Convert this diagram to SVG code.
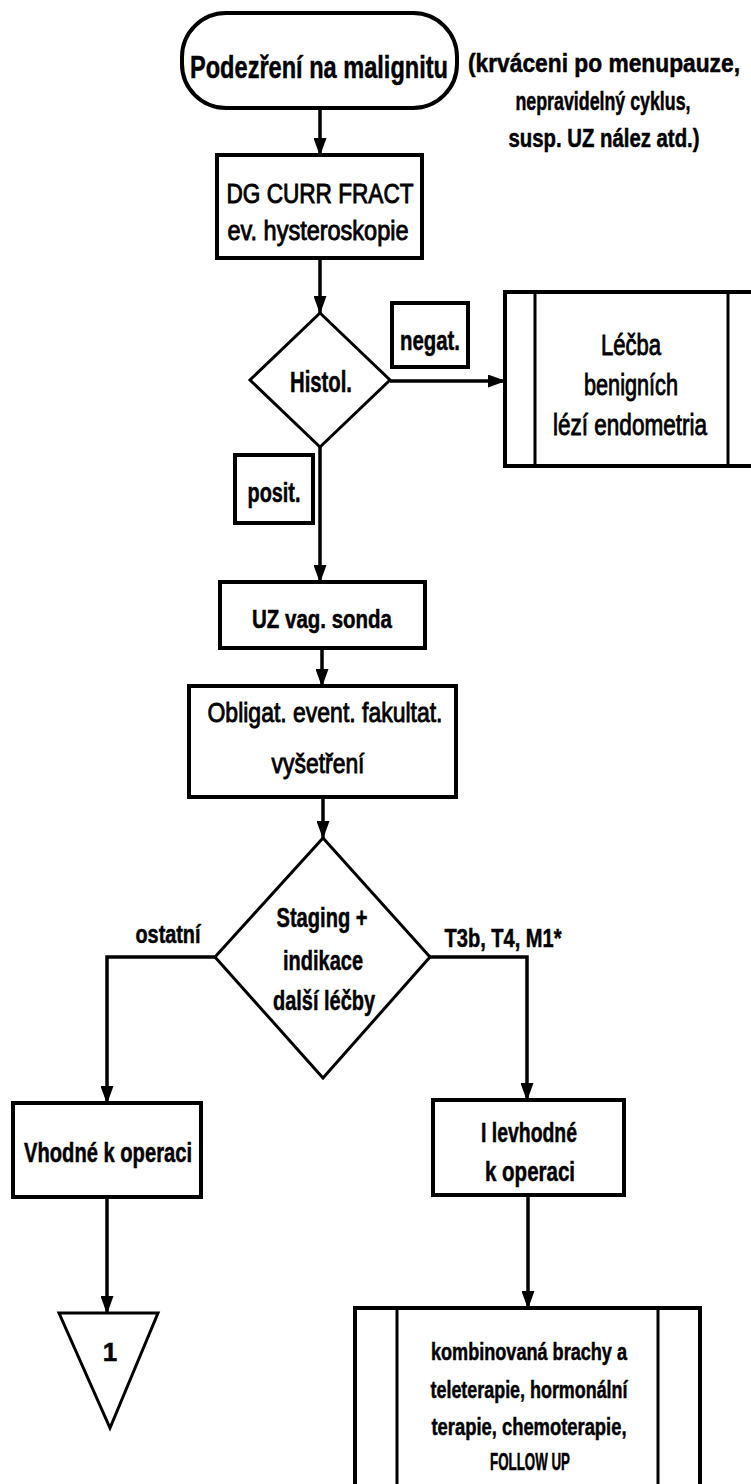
<svg xmlns="http://www.w3.org/2000/svg" width="751" height="1484" viewBox="0 0 751 1484">
<defs>
<marker id="ah" markerUnits="userSpaceOnUse" markerWidth="18" markerHeight="13" viewBox="0 0 18 13" refX="17" refY="6.5" orient="auto">
<path d="M0,0 L18,6.5 L0,13 Z" fill="#000"/>
</marker>
<style>
.t{font-family:"Liberation Sans Narrow","Liberation Sans",Arial,sans-serif;font-weight:bold;fill:#000;stroke:#000;stroke-width:0.5;text-anchor:middle}
.n{font-weight:normal;stroke-width:0.9}
.s{fill:#fff;stroke:#000;stroke-width:4}
.d{fill:#fff;stroke:#000;stroke-width:3}
.c{fill:none;stroke:#000;stroke-width:3.5}
.b{fill:none;stroke:#000;stroke-width:4}
.v{stroke:#000;stroke-width:3}
</style>
</defs>
<rect width="751" height="1484" fill="#fff"/>
<g id="connectors">
<line class="c" x1="320" y1="108" x2="320" y2="155" marker-end="url(#ah)"/>
<line class="c" x1="320" y1="258" x2="320" y2="313" marker-end="url(#ah)"/>
<line class="c" x1="390" y1="381" x2="505" y2="381" stroke-width="5" marker-end="url(#ah)"/>
<line class="c" x1="320" y1="447" x2="320" y2="582" marker-end="url(#ah)"/>
<line class="c" x1="322" y1="648" x2="322" y2="686" marker-end="url(#ah)"/>
<line class="c" x1="323" y1="797" x2="323" y2="838" marker-end="url(#ah)"/>
<polyline class="c" points="215,957 107,957 107,1103" marker-end="url(#ah)"/>
<polyline class="c" points="430,957 527,957 527,1100" marker-end="url(#ah)"/>
<line class="c" x1="107" y1="1197" x2="107" y2="1313" marker-end="url(#ah)"/>
<line class="c" x1="528" y1="1195" x2="528" y2="1308" marker-end="url(#ah)"/>
</g>
<g id="start">
<rect class="s" x="182" y="13" width="275" height="95" rx="44" ry="44" stroke-width="3"/>
<text class="t" x="319" y="78" font-size="32" textLength="258" lengthAdjust="spacingAndGlyphs">Podezření na malignitu</text>
</g>
<g id="note">
<text class="t" x="604" y="72" font-size="25" textLength="272" lengthAdjust="spacingAndGlyphs">(krváceni po menupauze,</text>
<text class="t" x="603" y="110" font-size="25" textLength="175" lengthAdjust="spacingAndGlyphs">nepravidelný cyklus,</text>
<text class="t" x="604" y="147" font-size="25" textLength="191" lengthAdjust="spacingAndGlyphs">susp. UZ nález atd.)</text>
</g>
<g id="dg">
<rect class="s" x="217" y="155" width="205" height="103"/>
<text class="t n" x="320" y="203" font-size="27" textLength="187" lengthAdjust="spacingAndGlyphs">DG CURR FRACT</text>
<text class="t n" x="318" y="240" font-size="27" textLength="181" lengthAdjust="spacingAndGlyphs">ev. hysteroskopie</text>
</g>
<g id="histol">
<polygon class="d" points="320,313 390,380 320,447 250,380"/>
<text class="t" x="321" y="392" font-size="30" textLength="62" lengthAdjust="spacingAndGlyphs">Histol.</text>
</g>
<g id="negat">
<rect class="s" x="392" y="303" width="76" height="64" stroke-width="5"/>
<text class="t" x="430" y="350" font-size="28" textLength="60" lengthAdjust="spacingAndGlyphs">negat.</text>
</g>
<g id="lecba">
<rect x="505" y="292" width="246" height="174" fill="#fff"/>
<path class="b" d="M751,292 H505 V466 H751"/>
<line class="v" x1="535" y1="292" x2="535" y2="466"/>
<line class="v" x1="728" y1="292" x2="728" y2="466"/>
<text class="t n" x="631" y="355" font-size="30" textLength="60" lengthAdjust="spacingAndGlyphs">Léčba</text>
<text class="t n" x="631" y="395" font-size="30" textLength="94" lengthAdjust="spacingAndGlyphs">benigních</text>
<text class="t n" x="630" y="435" font-size="30" textLength="154" lengthAdjust="spacingAndGlyphs">lézí endometria</text>
</g>
<g id="posit">
<rect class="s" x="235" y="455" width="78" height="68" stroke-width="5"/>
<text class="t" x="274" y="502" font-size="28" textLength="53" lengthAdjust="spacingAndGlyphs">posit.</text>
</g>
<g id="uz">
<rect class="s" x="220" y="582" width="205" height="66"/>
<text class="t" x="322" y="628" font-size="26" textLength="140" lengthAdjust="spacingAndGlyphs">UZ vag. sonda</text>
</g>
<g id="obligat">
<rect class="s" x="189" y="686" width="267" height="111"/>
<text class="t n" x="325" y="722" font-size="28" textLength="235" lengthAdjust="spacingAndGlyphs">Obligat. event. fakultat.</text>
<text class="t n" x="318" y="773" font-size="28" textLength="93" lengthAdjust="spacingAndGlyphs">vyšetření</text>
</g>
<g id="staging">
<polygon class="d" points="323,838 430,957 323,1078 215,957"/>
<text class="t" x="322" y="927" font-size="27" textLength="91" lengthAdjust="spacingAndGlyphs">Staging +</text>
<text class="t" x="323" y="970" font-size="27" textLength="80" lengthAdjust="spacingAndGlyphs">indikace</text>
<text class="t" x="324" y="1010" font-size="27" textLength="102" lengthAdjust="spacingAndGlyphs">další léčby</text>
</g>
<g id="labels">
<text class="t" x="168" y="943" font-size="25" textLength="65" lengthAdjust="spacingAndGlyphs">ostatní</text>
<text class="t" x="503" y="947" font-size="25" textLength="117" lengthAdjust="spacingAndGlyphs">T3b, T4, M1*</text>
</g>
<g id="vhodne">
<rect class="s" x="13" y="1103" width="188" height="94"/>
<text class="t" x="108" y="1162" font-size="27" textLength="168" lengthAdjust="spacingAndGlyphs">Vhodné k operaci</text>
</g>
<g id="connector1">
<polygon class="d" points="59,1313 158,1313 110,1428"/>
<text class="t" x="110" y="1361" font-size="26">1</text>
</g>
<g id="nevhodne">
<rect class="s" x="433" y="1100" width="191" height="95"/>
<text class="t" x="529" y="1142" font-size="27" textLength="96" lengthAdjust="spacingAndGlyphs">I levhodné</text>
<text class="t" x="530" y="1181" font-size="27" textLength="90" lengthAdjust="spacingAndGlyphs">k operaci</text>
</g>
<g id="terapie">
<rect x="355" y="1308" width="345" height="176" fill="#fff"/>
<path class="b" d="M355,1484 V1308 H700 V1484"/>
<line class="v" x1="397" y1="1308" x2="397" y2="1484"/>
<line class="v" x1="658" y1="1308" x2="658" y2="1484"/>
<text class="t" x="529" y="1360" font-size="23" textLength="196" lengthAdjust="spacingAndGlyphs">kombinovaná brachy a</text>
<text class="t" x="529" y="1398" font-size="23" textLength="197" lengthAdjust="spacingAndGlyphs">teleterapie, hormonální</text>
<text class="t" x="529" y="1435" font-size="23" textLength="195" lengthAdjust="spacingAndGlyphs">terapie, chemoterapie,</text>
<text class="t" x="530" y="1470" font-size="23" textLength="80" lengthAdjust="spacingAndGlyphs">FOLLOW UP</text>
</g>
</svg>
